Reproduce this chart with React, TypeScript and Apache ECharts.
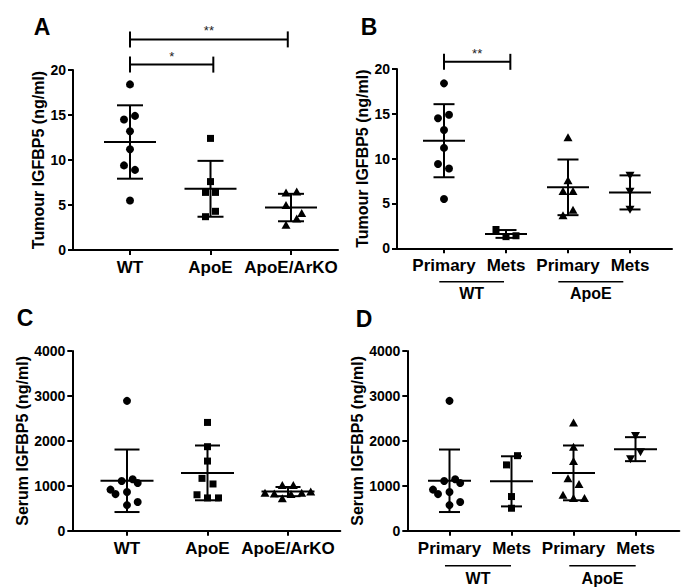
import React, { useEffect, useRef } from "react";
import * as echarts from "echarts";

const FONT = "'Liberation Sans', Arial, Helvetica, sans-serif";

// ---------- Data ----------
// Tumour IGFBP5 (ng/ml)
const catsA = ["WT", "ApoE", "ApoE/ArKO"];
const tumourWT = [18.4, 14.5, 14.9, 13.2, 11.2, 9.4, 8.9, 5.5];
const tumourApoE = [12.4, 7.6, 6.4, 6.4, 4.3, 3.7];
const tumourArKO = [6.4, 6.5, 5.0, 4.1, 3.5, 2.8];
const tumourWTMets = [2.1, 1.3, 1.4];
const tumourApoEMets = [8.1, 6.3, 4.3];
const catsB = ["Primary", "Mets", "Primary", "Mets"];
const groupNames = ["WT", "ApoE"];

// Serum IGFBP5 (ng/ml)
const catsC = ["WT", "ApoE", "ApoE/ArKO"];
const serumWT = [2890, 1105, 1145, 1060, 915, 815, 860, 640, 570];
const serumApoE = [2410, 1870, 1550, 1165, 1040, 800, 730, 730];
const serumArKO = [1020, 1020, 845, 830, 815, 845, 870, 720];
const serumWTMets = [1670, 1465, 760, 500];
const serumApoEMets = [2110, 1745, 1590];
const catsD = ["Primary", "Mets", "Primary", "Mets"];

// significance annotations: [from category, to category, height, label]
const bracketsA: [number, number, number, string][] = [
  [1, 2.96, 23.4, "**"],
  [1, 2.035, 20.6, "*"],
];
const bracketsB: [number, number, number, string][] = [[1, 2.07, 20.8, "**"]];

// ---------- Layout (pixels) ----------
const jitWT = [0, -6, 5, 0, 0, -6, 5, 0];
const jitApoE = [0, 0, -5, 5, 5, -5];
const jitArKO = [-5, 5.7, -5, 10.7, 5.7, -5];
const jitWTMets = [-10, 0, 10];
const jitApoEMets = [0, 0, 0];
const jitSWT = [0, -5.3, 5.7, 10.7, -16.5, -11.5, 0, 10.7, 0];
const jitSApoE = [0, 0, 0, -5.5, 5.5, -10.5, 0, 11];
const jitSArKO = [-5.7, 5.3, -23, -13.7, 3, 13.7, 22.7, -5.7];
const jitSWTMets = [6, -5, 0, 0];
const jitSApoEMets = [0, 5, -5];

type Group = { values: number[]; jitter: number[]; symbol: string; size: any; rotate?: number };
type Panel = {
  letter: string; lx: number; ly: number;
  left: number; top: number; width: number; height: number;
  firstPx: number; stepPx: number;
  yMax: number; yInterval: number; yName: string; nameGap: number;
  cats: string[]; groups: Group[];
  meanHalf: number; capHalf: number;
  brackets: [number, number, number, string][];
  spans: [number, number, string][];
  spanLineOff: number; spanTextOff: number;
};

const TRI = [9, 8];

const panels: Panel[] = [
  {
    letter: "A", lx: 42, ly: 27,
    left: 73, top: 70, width: 265, height: 180,
    firstPx: 130, stepPx: 80.5,
    yMax: 20, yInterval: 5, yName: "Tumour IGFBP5 (ng/ml)", nameGap: 17,
    cats: catsA,
    groups: [
      { values: tumourWT, jitter: jitWT, symbol: "circle", size: 8 },
      { values: tumourApoE, jitter: jitApoE, symbol: "rect", size: 7 },
      { values: tumourArKO, jitter: jitArKO, symbol: "triangle", size: TRI },
    ],
    meanHalf: 26, capHalf: 13,
    brackets: bracketsA, spans: [], spanLineOff: 0, spanTextOff: 0,
  },
  {
    letter: "B", lx: 369, ly: 27,
    left: 397, top: 69, width: 275, height: 179.3,
    firstPx: 444, stepPx: 62,
    yMax: 20, yInterval: 5, yName: "Tumour IGFBP5 (ng/ml)", nameGap: 14,
    cats: catsB,
    groups: [
      { values: tumourWT, jitter: jitWT, symbol: "circle", size: 8 },
      { values: tumourWTMets, jitter: jitWTMets, symbol: "rect", size: 7 },
      { values: tumourApoE, jitter: jitApoE, symbol: "triangle", size: TRI },
      { values: tumourApoEMets, jitter: jitApoEMets, symbol: "triangle", size: TRI, rotate: 180 },
    ],
    meanHalf: 21, capHalf: 10.5,
    brackets: bracketsB,
    spans: [[0.924, 1.968, groupNames[0]], [2.844, 3.892, groupNames[1]]],
    spanLineOff: 33.4, spanTextOff: 45,
  },
  {
    letter: "C", lx: 25, ly: 318,
    left: 72.3, top: 351, width: 268, height: 179.7,
    firstPx: 127, stepPx: 80.5,
    yMax: 4000, yInterval: 1000, yName: "Serum IGFBP5 (ng/ml)", nameGap: 33,
    cats: catsC,
    groups: [
      { values: serumWT, jitter: jitSWT, symbol: "circle", size: 8 },
      { values: serumApoE, jitter: jitSApoE, symbol: "rect", size: 7 },
      { values: serumArKO, jitter: jitSArKO, symbol: "triangle", size: TRI },
    ],
    meanHalf: 26.5, capHalf: 12.5,
    brackets: [], spans: [], spanLineOff: 0, spanTextOff: 0,
  },
  {
    letter: "D", lx: 364, ly: 319,
    left: 407.3, top: 351, width: 272, height: 179.7,
    firstPx: 449.5, stepPx: 62,
    yMax: 4000, yInterval: 1000, yName: "Serum IGFBP5 (ng/ml)", nameGap: 27.6,
    cats: catsD,
    groups: [
      { values: serumWT, jitter: jitSWT, symbol: "circle", size: 8 },
      { values: serumWTMets, jitter: jitSWTMets, symbol: "rect", size: 7 },
      { values: serumApoE, jitter: jitSApoE, symbol: "triangle", size: TRI },
      { values: serumApoEMets, jitter: jitSApoEMets, symbol: "triangle", size: TRI, rotate: 180 },
    ],
    meanHalf: 21.5, capHalf: 10.5,
    brackets: [],
    spans: [[0.927, 1.992, groupNames[0]], [2.932, 4.003, groupNames[1]]],
    spanLineOff: 35, spanTextOff: 47.5,
  },
];

function mean(a: number[]) {
  return a.reduce((s, v) => s + v, 0) / a.length;
}
function sd(a: number[]) {
  const m = mean(a);
  return Math.sqrt(a.reduce((s, v) => s + (v - m) * (v - m), 0) / (a.length - 1));
}

function buildOption() {
  const grid: any[] = [];
  const xAxis: any[] = [];
  const yAxis: any[] = [];
  const series: any[] = [];
  const graphic: any[] = [];
  const black = "#000";

  panels.forEach((p, i) => {
    const xmin = 1 - (p.firstPx - p.left) / p.stepPx;
    const xmax = xmin + p.width / p.stepPx;
    const catVals = p.cats.map((_, k) => k + 1);
    grid.push({ left: p.left, top: p.top, width: p.width, height: p.height, containLabel: false });
    xAxis.push({
      gridIndex: i, type: "value", min: xmin, max: xmax,
      axisLine: { show: true, onZero: false, lineStyle: { color: black, width: 2 } },
      axisTick: { show: true, customValues: catVals, length: 5, lineStyle: { color: black, width: 2 } },
      axisLabel: {
        customValues: catVals,
        formatter: (v: number) => p.cats[Math.round(v) - 1] ?? "",
        color: black, fontSize: 17, fontWeight: "bold", fontFamily: FONT, margin: 9,
      },
      splitLine: { show: false },
    });
    yAxis.push({
      gridIndex: i, type: "value", min: 0, max: p.yMax, interval: p.yInterval,
      axisLine: { show: true, onZero: false, lineStyle: { color: black, width: 2 } },
      axisTick: { show: true, length: 5, lineStyle: { color: black, width: 2 } },
      axisLabel: {
        formatter: (v: number) => String(v),
        color: black, fontSize: 14, fontWeight: "bold", fontFamily: FONT, margin: 7,
      },
      splitLine: { show: false },
      name: p.yName, nameLocation: "middle", nameGap: p.nameGap, nameRotate: 90,
      nameTextStyle: { color: black, fontSize: 16, fontWeight: "bold", fontFamily: FONT },
    });

    // error bars (mean ± SD)
    const stats = p.groups.map((g, k) => [k + 1, mean(g.values), sd(g.values)]);
    series.push({
      type: "custom", xAxisIndex: i, yAxisIndex: i, clip: false, silent: true,
      encode: { x: 0, y: 1 },
      data: stats,
      renderItem: (_params: any, api: any) => {
        const x = api.value(0), m = api.value(1), s = api.value(2);
        const c = api.coord([x, m]);
        const t = api.coord([x, m + s]);
        const b = api.coord([x, m - s]);
        const style = { stroke: black, lineWidth: 2 };
        return {
          type: "group",
          children: [
            { type: "line", shape: { x1: c[0] - p.meanHalf, y1: c[1], x2: c[0] + p.meanHalf, y2: c[1] }, style },
            { type: "line", shape: { x1: c[0], y1: t[1], x2: c[0], y2: b[1] }, style },
            { type: "line", shape: { x1: c[0] - p.capHalf, y1: t[1], x2: c[0] + p.capHalf, y2: t[1] }, style },
            { type: "line", shape: { x1: c[0] - p.capHalf, y1: b[1], x2: c[0] + p.capHalf, y2: b[1] }, style },
          ],
        };
      },
      z: 2,
    });

    // points
    p.groups.forEach((g, k) => {
      series.push({
        type: "scatter", xAxisIndex: i, yAxisIndex: i, silent: true,
        symbol: g.symbol, symbolSize: g.size, symbolRotate: g.rotate ?? 0,
        itemStyle: { color: black, opacity: 1 },
        data: g.values.map((v, j) => [k + 1 + g.jitter[j] / p.stepPx, v]),
        z: 3,
      });
    });

    // significance brackets
    if (p.brackets.length) {
      series.push({
        type: "custom", xAxisIndex: i, yAxisIndex: i, clip: false, silent: true,
        encode: { x: 0, y: 2 },
        data: p.brackets.map((b) => [b[0], b[1], b[2]]),
        renderItem: (params: any, api: any) => {
          const br = p.brackets[params.dataIndex];
          const p1 = api.coord([api.value(0), api.value(2)]);
          const p2 = api.coord([api.value(1), api.value(2)]);
          const style = { stroke: black, lineWidth: 2 };
          const h = 8;
          return {
            type: "group",
            children: [
              { type: "line", shape: { x1: p1[0], y1: p1[1], x2: p2[0], y2: p2[1] }, style },
              { type: "line", shape: { x1: p1[0], y1: p1[1] - h, x2: p1[0], y2: p1[1] + h }, style },
              { type: "line", shape: { x1: p2[0], y1: p2[1] - h, x2: p2[0], y2: p2[1] + h }, style },
              {
                type: "text", x: (p1[0] + p2[0]) / 2, y: p1[1] - 2,
                style: { text: br[3], fill: "#222", fontSize: 13, fontFamily: FONT, align: "center", verticalAlign: "bottom" },
              },
            ],
          };
        },
        z: 4,
      });
    }

    // grouping labels under the x axis
    if (p.spans.length) {
      series.push({
        type: "custom", xAxisIndex: i, yAxisIndex: i, clip: false, silent: true,
        encode: { x: 0, y: 2 },
        data: p.spans.map((s) => [s[0], s[1], 0]),
        renderItem: (params: any, api: any) => {
          const sp = p.spans[params.dataIndex];
          const p1 = api.coord([api.value(0), 0]);
          const p2 = api.coord([api.value(1), 0]);
          return {
            type: "group",
            children: [
              { type: "line", shape: { x1: p1[0], y1: p1[1] + p.spanLineOff, x2: p2[0], y2: p2[1] + p.spanLineOff }, style: { stroke: black, lineWidth: 1.5 } },
              {
                type: "text", x: (p1[0] + p2[0]) / 2, y: p1[1] + p.spanTextOff,
                style: { text: sp[2], fill: black, fontSize: 16, fontWeight: "bold", fontFamily: FONT, align: "center", verticalAlign: "middle" },
              },
            ],
          };
        },
        z: 4,
      });
    }

    graphic.push({
      type: "text", x: p.lx, y: p.ly,
      style: { text: p.letter, fill: black, fontSize: 23, fontWeight: "bold", fontFamily: FONT, align: "center", verticalAlign: "middle" },
    });
  });

  return { animation: false, backgroundColor: "#fff", grid, xAxis, yAxis, series, graphic };
}

export default function App() {
  const ref = useRef<HTMLDivElement>(null);
  useEffect(() => {
    const chart = echarts.init(ref.current!, null, { renderer: "svg" });
    chart.setOption(buildOption() as any);
    return () => chart.dispose();
  }, []);
  return (
    <div
      ref={ref}
      style={{ position: "absolute", left: 0, top: 0, width: 688, height: 587, background: "#fff" }}
    />
  );
}
